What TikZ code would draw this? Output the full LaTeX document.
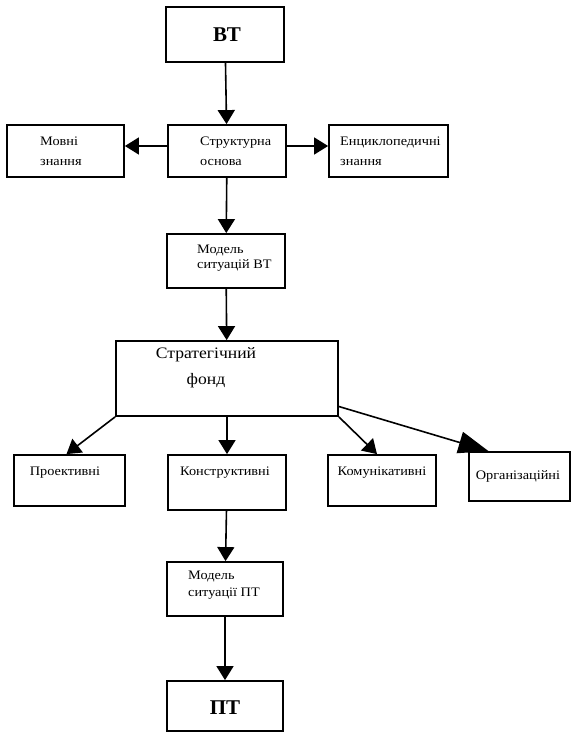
\documentclass[tikz,border=0pt]{standalone}
\usepackage{fontspec}
\setmainfont{Liberation Serif}
\newfontfamily\widefont[FakeStretch=1.1]{Liberation Serif}
\usetikzlibrary{arrows.meta,calc}
\begin{document}
\begin{tikzpicture}[x=1pt,y=-1pt,
  box/.style={draw,line width=1.8pt,rectangle,inner sep=0pt},
  lbl/.style={anchor=west,align=left,inner sep=0pt,font=\widefont\fontsize{13}{20}\selectfont},
  arr/.style={line width=1.6pt,-{Triangle[length=14pt,width=17pt]}},
  bigarr/.style={line width=1.6pt,-{Triangle[length=30pt,width=22pt]}},
]
\useasboundingbox (0,0) rectangle (571,733);
% boxes
\node[box,minimum width=118pt,minimum height=55pt] (vt)  at (225,34.5) {};
\node[box,minimum width=117pt,minimum height=52pt] (mov) at (65.5,151) {};
\node[box,minimum width=118pt,minimum height=52pt] (str) at (227,151) {};
\node[box,minimum width=119pt,minimum height=52pt] (enc) at (388.5,151) {};
\node[box,minimum width=118pt,minimum height=54pt] (mvt) at (226,261) {};
\node[box,minimum width=222pt,minimum height=75pt] (fond) at (227,378.5) {};
\node[box,minimum width=111pt,minimum height=51pt] (pro) at (69.5,480.5) {};
\node[box,minimum width=118pt,minimum height=55pt] (kon) at (227,482.5) {};
\node[box,minimum width=108pt,minimum height=51pt] (kom) at (382,480.5) {};
\node[box,minimum width=101pt,minimum height=49pt] (org) at (519.5,476.5) {};
\node[box,minimum width=116pt,minimum height=54pt] (mpt) at (225,589) {};
\node[box,minimum width=116pt,minimum height=50pt] (pt)  at (225,706) {};
% labels
\node[inner sep=0pt,font=\fontsize{21}{21}\selectfont\bfseries] (tvt) at (227,35) {ВТ};
\node[lbl] (tmov) at (40,151) {Мовні\\знання};
\node[lbl] (tstr) at (200,151.5) {Структурна\\основа};
\node[lbl] (tenc) at (340,151.5) {Енциклопедичні\\знання};
\node[lbl,font=\widefont\fontsize{13}{14.5}\selectfont] (tmvt) at (197,258) {Модель\\ситуацій ВТ};
\node[inner sep=0pt,align=center,font=\widefont\fontsize{16}{26}\selectfont] (tfond) at (206,368) {Стратегічний\\фонд};
\node[lbl,anchor=center] (tpro) at (65,473) {Проективні};
\node[lbl,anchor=center] (tkon) at (225,473) {Конструктивні};
\node[lbl,anchor=center] (tkom) at (382,473) {Комунікативні};
\node[lbl,anchor=center] (torg) at (518,476) {Організаційні};
\node[lbl,font=\widefont\fontsize{13}{17}\selectfont] (tmpt) at (188,585) {Модель\\ситуації ПТ};
\node[inner sep=0pt,font=\fontsize{21}{21}\selectfont\bfseries] (tpt) at (225,708) {ПТ};
% connectors
\draw[arr] (vt) -- (str);
\draw[arr] ([yshift=5pt]str.west) -- ([yshift=5pt]mov.east);
\draw[arr] ([yshift=5pt]str.east) -- ([yshift=5pt]enc.west);
\draw[arr] (str) -- (mvt);
\draw[arr] (mvt) -- (fond);
\draw[arr] (fond.south west) -- ([xshift=-3pt]pro.north);
\draw[arr] (fond.south) -- (kon.north);
\draw[arr] (fond.south east) -- ([xshift=-5pt]kom.north);
\draw[bigarr] ([yshift=-28pt]fond.east) -- ([xshift=-31pt]org.north);
\draw[arr] (kon) -- (mpt);
\draw[arr] (mpt) -- (pt);
\end{tikzpicture}
\end{document}
